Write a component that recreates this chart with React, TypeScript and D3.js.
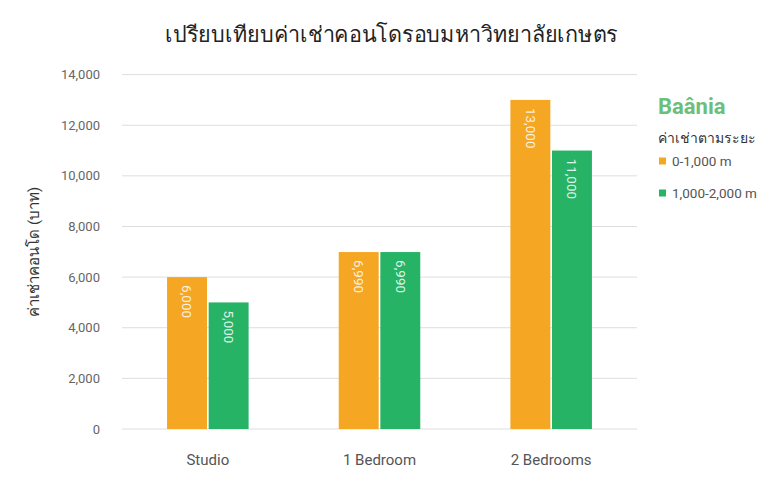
import React from 'react';
import * as d3 from 'd3';

const categories = ['Studio', '1 Bedroom', '2 Bedrooms'];
const seriesNames = ['0-1,000 m', '1,000-2,000 m'];
const near = [6000, 6990, 13000];
const far = [5000, 6990, 11000];
const yTicks = [0, 2000, 4000, 6000, 8000, 10000, 12000, 14000];
const colors = ['#F5A623', '#27B366'];

const W = 780;
const H = 485;
const FONT = "Roboto, 'Noto Sans', 'DejaVu Sans', sans-serif";

const App: React.FC = () => {
  const x0 = d3.scaleBand<string>()
    .domain(categories)
    .range([122, 637])
    .paddingInner(0.525)
    .paddingOuter(0.2625);

  const x1 = d3.scaleBand<string>()
    .domain(seriesNames)
    .range([0, x0.bandwidth()])
    .paddingInner(0.04);

  const y = d3.scaleLinear().domain([0, 14000]).range([429, 74.6]);
  const fmt = d3.format(',');
  const values = [near, far];

  return (
    <svg width={W} height={H} style={{ display: 'block', margin: '-8px', fontFamily: FONT, background: '#fff' }}>
      <text x={391.5} y={42} textAnchor="middle" fontSize={22} fill="#222" textLength={453} lengthAdjust="spacingAndGlyphs">
        เปรียบเทียบค่าเช่าคอนโดรอบมหาวิทยาลัยเกษตร
      </text>

      {/* grid + y ticks */}
      {yTicks.map(t => (
        <g key={t}>
          <line x1={122} x2={637} y1={y(t)} y2={y(t)} stroke="#dedede" strokeWidth={1} />
          <text x={100} y={y(t)} dy="0.35em" textAnchor="end" fontSize={13} fill="#666">
            {fmt(t)}
          </text>
        </g>
      ))}

      <text
        transform={`translate(34, ${y(7000)}) rotate(-90)`}
        textAnchor="middle"
        dy="0.35em"
        fontSize={15}
        fill="#333"
      >
        ค่าเช่าคอนโด (บาท)
      </text>

      {/* bars */}
      {categories.map((c, i) => (
        <g key={c} transform={`translate(${x0(c)},0)`}>
          {seriesNames.map((s, j) => {
            const v = values[j][i];
            const bx = x1(s) as number;
            const bw = x1.bandwidth();
            return (
              <g key={s}>
                <rect x={bx} y={y(v)} width={bw} height={y(0) - y(v)} fill={colors[j]} />
                <text
                  transform={`translate(${bx + bw / 2}, ${y(v) + 8}) rotate(90)`}
                  dy="0.35em"
                  fontSize={13.5}
                  fill="#fff"
                  fillOpacity={0.85}
                >
                  {fmt(v)}
                </text>
              </g>
            );
          })}
          <text x={x0.bandwidth() / 2} y={460} dy="0.35em" textAnchor="middle" fontSize={15} fill="#555">
            {c}
          </text>
        </g>
      ))}

      {/* legend */}
      <text x={658} y={114} fontSize={22} fontWeight="bold" fill="#6cbf7a">Baânia</text>
      <text x={658} y={138} dy="0.35em" fontSize={14} fill="#333">ค่าเช่าตามระยะ</text>
      {seriesNames.map((s, j) => (
        <g key={s} transform={`translate(659, ${161 + j * 32})`}>
          <rect x={0} y={-3.5} width={7} height={7} fill={colors[j]} />
          <text x={13} y={0} dy="0.35em" fontSize={13.5} fill="#555">{s}</text>
        </g>
      ))}
    </svg>
  );
};

export default App;
